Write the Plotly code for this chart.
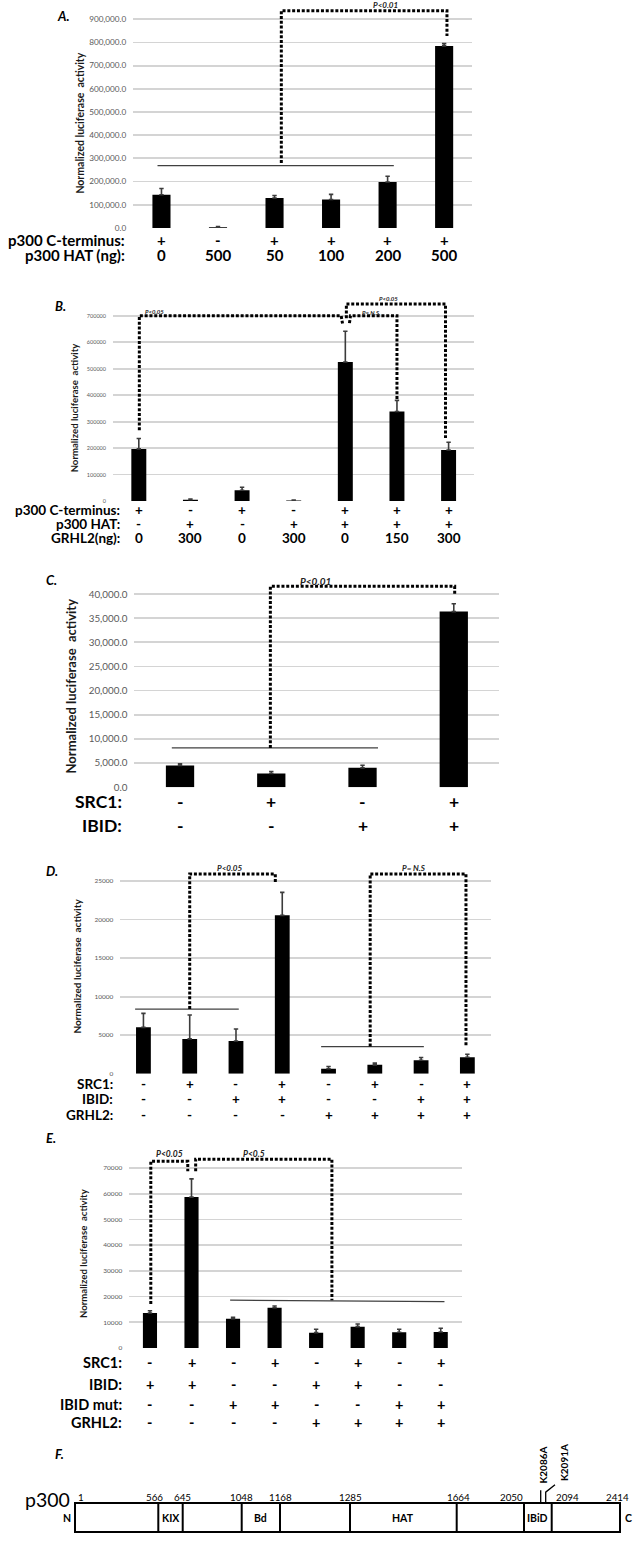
import plotly.graph_objects as go

W, H = 633, 1541
FONT = "Lato"

# ---------------- DATA ----------------
# Panel A
a_row1 = ["+", "-", "+", "+", "+", "+"]
a_row2 = ["0", "500", "50", "100", "200", "500"]
a_values = [143000, 3000, 129000, 123000, 198000, 785000]
a_errors = [27000, 3000, 11000, 22000, 25000, 10000]
a_row_names = ["p300 C-terminus:", "p300 HAT (ng):"]

# Panel B
b_row1 = ["+", "-", "+", "-", "+", "+", "+"]
b_row2 = ["-", "+", "-", "+", "+", "+", "+"]
b_row3 = ["0", "300", "0", "300", "0", "150", "300"]
b_values = [197000, 5000, 41000, 2000, 525000, 338000, 193000]
b_errors = [39000, 3000, 11000, 2000, 116000, 42000, 29000]
b_row_names = ["p300 C-terminus:", "p300 HAT:", "GRHL2(ng):"]

# Panel C
c_row1 = ["-", "+", "-", "+"]
c_row2 = ["-", "-", "+", "+"]
c_values = [4480, 2820, 4000, 36370]
c_errors = [340, 420, 550, 1630]
c_row_names = ["SRC1:", "IBID:"]

# Panel D
d_row1 = ["-", "+", "-", "+", "-", "+", "-", "+"]
d_row2 = ["-", "-", "+", "+", "-", "-", "+", "+"]
d_row3 = ["-", "-", "-", "-", "+", "+", "+", "+"]
d_values = [6020, 4520, 4260, 20530, 650, 1160, 1760, 2150]
d_errors = [1810, 3100, 1550, 2970, 300, 220, 350, 390]
d_row_names = ["SRC1:", "IBID:", "GRHL2:"]

# Panel E
e_row1 = ["-", "+", "-", "+", "-", "+", "-", "+"]
e_row2 = ["+", "+", "-", "-", "+", "+", "-", "-"]
e_row3 = ["-", "-", "+", "+", "-", "-", "+", "+"]
e_row4 = ["-", "-", "-", "-", "+", "+", "+", "+"]
e_values = [13580, 58710, 11380, 15650, 5950, 8280, 6080, 6200]
e_errors = [900, 7110, 520, 640, 1290, 1030, 1160, 1430]
e_row_names = ["SRC1:", "IBID:", "IBID mut:", "GRHL2:"]

# significance annotations: (category index, value) paths, solid group lines, labels
a_lines = [[(-0.07, 269000), (4.11, 269000)]]
a_brackets = [[(2.12, 280000), (2.12, 937000), (5.05, 937000), (5.05, 828000)]]
a_plabels = [(3.97, 962000, "P<0.01")]

b_lines = []
b_brackets = [
    [(0.01, 267000), (0.01, 700000), (3.92, 700000), (3.95, 665000)],
    [(4.08, 672000), (4.1, 700000), (5.0, 700000), (5.0, 383000)],
    [(4.02, 690000), (4.02, 744000), (5.94, 744000), (5.94, 238000)],
]
b_plabels = [(0.3, 716000, "P<0.05"), (4.51, 712000, "P= N.S."), (4.84, 765000, "P<0.05")]

c_lines = [[(-0.09, 8130), (2.17, 8130)]]
c_brackets = [[(0.99, 8100), (0.99, 41600), (3.01, 41600), (3.01, 39800)]]
c_plabels = [(1.48, 42800, "P<0.01")]

d_lines = [[(-0.18, 8390), (2.06, 8390)], [(3.84, 3528), (6.06, 3528)]]
d_brackets = [
    [(1.0, 8400), (1.0, 25890), (2.85, 25890), (2.85, 24700)],
    [(4.9, 3528), (4.9, 25890), (6.97, 25890), (6.97, 3500)],
]
d_plabels = [(1.87, 26650, "P<0.05"), (5.84, 26650, "P= N.S")]

e_lines = [[(1.93, 18600), (7.09, 18000)]]
e_brackets = [
    [(0.02, 17070), (0.02, 72650), (0.91, 72650), (0.91, 68780)],
    [(1.1, 68800), (1.1, 73500), (4.38, 73500), (4.38, 18600)],
]
e_plabels = [(0.47, 75600, "P<0.05"), (2.51, 75600, "P<0.5")]

# Panel F (schematic, not to scale)
f_residues = [1, 566, 645, 1048, 1168, 1285, 1664, 2050, 2094, 2414]
f_positions = [0, 83.3, 107.7, 166.7, 205, 275, 381.7, 449, 476.7, 545]
f_label_anchor = ["left", "center", "center", "center", "center", "center", "center", "right", "left", "center"]
f_label_shift = [1, -4, 0, 0, 0, 0, 2, 1, 2, -3]
f_domains = [("KIX", 566, 645), ("Bd", 1048, 1168), ("HAT", 1285, 1664), ("IBiD", 2050, 2094)]
f_mutations = ["K2086A", "K2091A"]
f_mut_pos = [465.7, 470.7]

# ---------------- LAYOUT SPECS ----------------
panels = [
    dict(name="A", vals=a_values, errs=a_errors, rows=[a_row1, a_row2], row_names=a_row_names,
         xpx=(133.2, 472.4), zero=228.7, ref=(900000, 19.3), top=975000, dtick=100000, fmt=",.1f",
         tick_size=8.2, barw=0.32, row_y=[240.7, 256], row_right=125.5, row_size=15,
         title_xy=(80, 124), title_size=10.5,
         letter_xy=(55, 6), plab_size=8,
         lines=a_lines, brackets=a_brackets, plabels=a_plabels),
    dict(name="B", vals=b_values, errs=b_errors, rows=[b_row1, b_row2, b_row3], row_names=b_row_names,
         xpx=(113, 474.4), zero=502.7, ref=(700000, 316.7), top=780000, dtick=100000, fmt="d",
         tick_size=5.5, barw=0.29, row_y=[512, 526, 539.5], row_right=121, row_size=13.5,
         title_xy=(74.7, 409), title_size=9.6,
         letter_xy=(52.5, 297), plab_size=6,
         lines=b_lines, brackets=b_brackets, plabels=b_plabels),
    dict(name="C", vals=c_values, errs=c_errors, rows=[c_row1, c_row2], row_names=c_row_names,
         xpx=(134.4, 499.4), zero=789.7, ref=(40000, 596), top=44000, dtick=5000, fmt=",.1f",
         tick_size=9.8, barw=0.31, row_y=[804, 828.3], row_right=123, row_size=17.5,
         title_xy=(70.7, 688), title_size=13,
         letter_xy=(44.4, 582), plab_size=10,
         lines=c_lines, brackets=c_brackets, plabels=c_plabels),
    dict(name="D", vals=d_values, errs=d_errors, rows=[d_row1, d_row2, d_row3], row_names=d_row_names,
         xpx=(120.3, 490.5), zero=1077.3, ref=(25000, 883.7), top=27500, dtick=5000, fmt="d",
         tick_size=6.5, barw=0.32, row_y=[1087.3, 1102.7, 1118.7], row_right=114, row_size=13.5,
         title_xy=(76.7, 969), title_size=10,
         letter_xy=(44.4, 874), plab_size=8,
         lines=d_lines, brackets=d_brackets, plabels=d_plabels),
    dict(name="E", vals=e_values, errs=e_errors, rows=[e_row1, e_row2, e_row3, e_row4], row_names=e_row_names,
         xpx=(129.2, 461.5), zero=1352.3, ref=(60000, 1197.7), top=78000, dtick=10000, fmt="d",
         tick_size=6.5, barw=0.34, row_y=[1366.7, 1389.3, 1408.7, 1427.3], row_right=123, row_size=14.5,
         title_xy=(83.6, 1257.5), title_size=9.6,
         letter_xy=(44.4, 1152), plab_size=8.5,
         lines=e_lines, brackets=e_brackets, plabels=e_plabels),
]


def px(xp):
    return xp / W


def py(yp):
    return 1 - yp / H


fig = go.Figure()
layout = dict(width=W, height=H, margin=dict(l=0, r=0, t=0, b=0), autosize=False,
              paper_bgcolor="white", plot_bgcolor="white", showlegend=False,
              font=dict(family=FONT, color="black"))
annotations = []

for i, p in enumerate(panels, start=1):
    xa = "x" if i == 1 else f"x{i}"
    ya = "y" if i == 1 else f"y{i}"
    xkey = "xaxis" if i == 1 else f"xaxis{i}"
    ykey = "yaxis" if i == 1 else f"yaxis{i}"
    n = len(p["vals"])
    k = (p["zero"] - p["ref"][1]) / p["ref"][0]
    top_px = p["zero"] - p["top"] * k
    layout[xkey] = dict(domain=[px(p["xpx"][0]), px(p["xpx"][1])], range=[-0.5, n - 0.5],
                        showgrid=False, zeroline=False, showticklabels=False, ticks="",
                        showline=False, anchor=ya, fixedrange=True)
    layout[ykey] = dict(domain=[py(p["zero"]), py(top_px)], range=[0, p["top"]],
                        anchor=xa, showgrid=True, gridcolor="#d4d4d4", gridwidth=1.8,
                        zeroline=False, showline=False, ticks="", dtick=p["dtick"], tick0=0,
                        tickformat=p["fmt"], ticklabelstandoff=6, fixedrange=True,
                        tickfont=dict(family=FONT, size=p["tick_size"], color="#595959"))
    fig.add_trace(go.Bar(x=list(range(n)), y=p["vals"], width=p["barw"], xaxis=xa, yaxis=ya,
                         marker=dict(color="black", line=dict(width=0)),
                         error_y=dict(type="data", symmetric=False, array=p["errs"],
                                      arrayminus=[0] * n, color="#3c3c3c", thickness=1.6, width=2.2)))
    for ln in p["lines"]:
        fig.add_trace(go.Scatter(x=[q[0] for q in ln], y=[q[1] for q in ln], mode="lines",
                                 xaxis=xa, yaxis=ya, hoverinfo="skip",
                                 line=dict(color="#404040", width=1.2)))
    for br in p["brackets"]:
        fig.add_trace(go.Scatter(x=[q[0] for q in br], y=[q[1] for q in br], mode="lines",
                                 xaxis=xa, yaxis=ya, hoverinfo="skip",
                                 line=dict(color="black", width=3, dash="3px,1.8px")))
    for (xi, yv, t) in p["plabels"]:
        annotations.append(dict(x=xi, y=yv, xref=xa, yref=ya, text=f"<b><i>{t}</i></b>",
                                showarrow=False, font=dict(family=FONT, size=p["plab_size"], color="#222")))
    # y axis title
    annotations.append(dict(x=px(p["title_xy"][0]), y=py(p["title_xy"][1]), xref="paper", yref="paper",
                            text="<b>Normalized luciferase&nbsp; activity</b>", textangle=-90, showarrow=False,
                            xanchor="center", yanchor="middle",
                            font=dict(family=FONT, size=p["title_size"], color="#1a1a1a")))
    # panel letter
    annotations.append(dict(x=px(p["letter_xy"][0]), y=py(p["letter_xy"][1]), xref="paper", yref="paper",
                            text=f"<b><i>{p['name']}.</i></b>", showarrow=False,
                            font=dict(family=FONT, size=13, color="black")))
    # condition rows
    for rname, rvals, ry in zip(p["row_names"], p["rows"], p["row_y"]):
        annotations.append(dict(x=px(p["row_right"]), y=py(ry), xref="paper", yref="paper",
                                text=f"<b>{rname}</b>", showarrow=False, xanchor="right", yanchor="middle",
                                borderpad=0,
                                font=dict(family=FONT, size=p["row_size"], color="black")))
        for ci, v in enumerate(rvals):
            annotations.append(dict(x=ci, y=py(ry), xref=xa, yref="paper", text=f"<b>{v}</b>",
                                    showarrow=False, yanchor="middle", borderpad=0,
                                    font=dict(family=FONT, size=p["row_size"], color="black")))

# ---------------- PANEL F ----------------
# 1 axis unit = 1 pixel; x=0 at box left (75 px), y=0 at box bottom (1537 px)
layout["xaxis6"] = dict(domain=[px(55), px(633)], range=[-20, 558], visible=False, anchor="y6", fixedrange=True)
layout["yaxis6"] = dict(domain=[py(1541), py(1441)], range=[-4, 96], visible=False, anchor="x6", fixedrange=True)
box_h = 29
shapes = []
pos_of = dict(zip(f_residues, f_positions))
shapes.append(dict(type="rect", xref="x6", yref="y6", x0=f_positions[0], x1=f_positions[-1], y0=0, y1=box_h,
                   line=dict(color="black", width=2), fillcolor="white", layer="above"))
for xp in f_positions[1:-1]:
    shapes.append(dict(type="line", xref="x6", yref="y6", x0=xp, x1=xp, y0=0, y1=box_h,
                       line=dict(color="black", width=2)))
for res, xp, anc, sh in zip(f_residues, f_positions, f_label_anchor, f_label_shift):
    annotations.append(dict(x=xp, y=35.3, xref="x6", yref="y6", text=str(res), showarrow=False,
                            xanchor=anc, yanchor="middle", xshift=sh,
                            font=dict(family=FONT, size=9.8, color="black")))
for lab, r0, r1 in f_domains:
    annotations.append(dict(x=(pos_of[r0] + pos_of[r1]) / 2, y=13.7, xref="x6", yref="y6",
                            text=f"<b>{lab}</b>", showarrow=False, yanchor="middle",
                            font=dict(family=FONT, size=10.5, color="black")))
# mutation markers
shapes.append(dict(type="line", xref="x6", yref="y6", x0=f_mut_pos[0], x1=f_mut_pos[0], y0=box_h, y1=42,
                   line=dict(color="black", width=1.3)))
shapes.append(dict(type="path", xref="x6", yref="y6",
                   path=f"M {f_mut_pos[1]} {box_h} L {f_mut_pos[1]} 40 L {f_mut_pos[1] + 9.3} 47.5",
                   line=dict(color="black", width=1.3)))
annotations.append(dict(x=f_mut_pos[0] + 2.6, y=67, xref="x6", yref="y6", text=f"<b>{f_mutations[0]}</b>",
                        textangle=-90, showarrow=False, font=dict(family=FONT, size=10, color="black")))
annotations.append(dict(x=f_mut_pos[1] + 17.6, y=69.5, xref="x6", yref="y6", text=f"<b>{f_mutations[1]}</b>",
                        textangle=-90, showarrow=False, font=dict(family=FONT, size=10, color="black")))
annotations.append(dict(x=-8.3, y=13.7, xref="x6", yref="y6", text="<b>N</b>", showarrow=False,
                        font=dict(family=FONT, size=10.5, color="black")))
annotations.append(dict(x=553.5, y=13.7, xref="x6", yref="y6", text="<b>C</b>", showarrow=False,
                        font=dict(family=FONT, size=10.5, color="black")))
annotations.append(dict(x=px(22.5), y=py(1518.3), xref="paper", yref="paper", text="p300", showarrow=False,
                        font=dict(family=FONT, size=19.5, color="black")))
annotations.append(dict(x=px(53.3), y=py(1468.3), xref="paper", yref="paper", text="<b><i>F.</i></b>",
                        showarrow=False, font=dict(family=FONT, size=13, color="black")))
# invisible trace to register the F axes
fig.add_trace(go.Scatter(x=[0], y=[0], xaxis="x6", yaxis="y6", mode="markers",
                         marker=dict(opacity=0), hoverinfo="skip"))

layout["annotations"] = annotations
layout["shapes"] = shapes
fig.update_layout(**layout)
fig.write_html("out.html", config={"displayModeBar": False, "staticPlot": True},
               post_script="document.body.style.margin='0px';document.body.style.padding='0px';"
                           "document.body.style.overflow='hidden';")
